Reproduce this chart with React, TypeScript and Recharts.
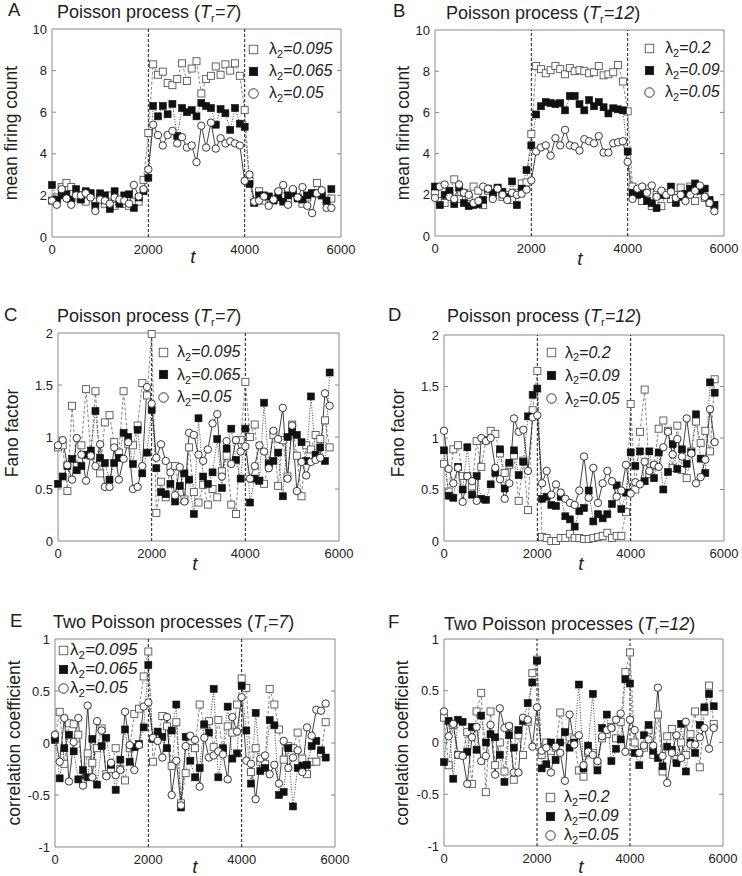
import React from 'react'
import { LineChart, Line, XAxis, YAxis, ReferenceLine, ReferenceArea, Legend } from 'recharts'

// time points (shared x axis)
const T = [
  0, 100, 200, 300, 400, 500, 600, 700, 800, 900,
  1000, 1100, 1200, 1300, 1400, 1500, 1600, 1700, 1800, 1900,
  2000, 2100, 2200, 2300, 2400, 2500, 2600, 2700, 2800, 2900,
  3000, 3100, 3200, 3300, 3400, 3500, 3600, 3700, 3800, 3900,
  4000, 4100, 4200, 4300, 4400, 4500, 4600, 4700, 4800, 4900,
  5000, 5100, 5200, 5300, 5400, 5500, 5600, 5700, 5800,
]
const X_TICKS = [0, 2000, 4000, 6000]
const COUNT_TICKS = [0, 2, 4, 6, 8, 10]
const FANO_TICKS = [0, 0.5, 1, 1.5, 2]
const CORR_TICKS = [-1, -0.5, 0, 0.5, 1]

const LEG_7 = ['0.095', '0.065', '0.05']
const LEG_12 = ['0.2', '0.09', '0.05']

// A: mean firing count, Tr=7
const A_SQ = [1.75, 1.9, 2.4, 2.6, 2.4, 1.9, 2.0, 1.7, 2.1, 1.7, 1.9, 1.6, 2.0, 1.5, 1.7, 1.6, 1.5, 1.7, 1.7, 2.75,
  5.0, 8.3, 7.8, 7.95, 7.4, 7.3, 7.6, 8.35, 7.5, 8.1, 8.45, 6.9, 7.6, 7.75, 8.2, 7.8, 8.3, 8.0, 8.35, 7.75,
  6.1, 2.7, 1.65, 2.2, 1.75, 1.9, 1.8, 2.1, 1.95, 1.7, 2.2, 1.9, 1.6, 1.9, 2.1, 2.6, 2.0, 1.7, 1.85]
const A_FI = [2.5, 1.8, 2.0, 2.05, 1.8, 2.3, 1.8, 2.2, 2.1, 1.5, 2.1, 2.0, 1.35, 2.2, 1.6, 2.0, 2.05, 1.4, 1.9, 2.2,
  2.85, 6.3, 5.8, 6.3, 5.9, 6.4, 4.85, 6.2, 6.0, 6.1, 5.8, 6.45, 6.3, 6.2, 5.4, 6.15, 5.95, 5.15, 6.2, 5.45,
  5.3, 2.55, 1.65, 2.0, 2.0, 1.95, 1.75, 1.9, 1.7, 2.0, 2.1, 1.85, 1.8, 2.0, 2.1, 2.1, 2.0, 1.75, 2.3]
const A_CI = [1.75, 1.55, 2.3, 1.85, 1.55, 2.0, 2.0, 2.1, 1.9, 1.25, 1.8, 1.75, 1.6, 1.9, 1.8, 1.75, 1.6, 2.5, 1.95, 2.3,
  3.25, 5.4, 4.9, 4.4, 4.9, 5.1, 4.5, 4.8, 4.3, 4.4, 3.6, 5.35, 4.3, 5.5, 4.25, 4.75, 4.5, 4.6, 4.5, 4.4,
  2.7, 3.0, 1.7, 1.75, 1.95, 1.5, 1.8, 2.2, 2.5, 1.55, 2.3, 1.9, 2.4, 1.5, 1.15, 2.1, 2.25, 1.4, 1.4]

// B: mean firing count, Tr=12
const B_SQ = [2.15, 1.7, 1.6, 2.1, 2.75, 1.8, 2.1, 1.9, 2.4, 2.2, 1.5, 2.2, 2.0, 2.3, 1.9, 2.0, 1.75, 2.1, 2.55, 2.6,
  4.95, 8.25, 8.1, 7.9, 8.05, 8.25, 8.1, 7.85, 8.15, 8.0, 8.05, 8.0, 7.9, 7.95, 8.25, 7.8, 7.85, 7.95, 8.3, 7.5,
  6.05, 2.4, 2.2, 1.7, 2.3, 1.45, 2.0, 1.45, 2.1, 1.8, 2.0, 2.35, 2.0, 2.4, 1.7, 2.3, 1.85, 1.6, 1.5]
const B_FI = [2.4, 1.5, 2.0, 2.2, 1.55, 2.35, 1.6, 1.45, 1.5, 1.55, 1.75, 2.3, 2.1, 2.35, 2.15, 1.9, 2.65, 1.5, 2.3, 3.2,
  4.4, 5.9, 6.3, 6.5, 6.45, 6.4, 6.45, 6.1, 6.8, 6.8, 6.4, 6.1, 6.6, 6.3, 6.5, 6.25, 5.95, 6.2, 6.15, 6.1,
  4.1, 2.1, 2.0, 2.05, 1.7, 1.6, 1.35, 2.0, 2.0, 2.4, 1.6, 1.9, 2.05, 2.3, 2.55, 2.2, 2.3, 1.75, 1.5]
const B_CI = [1.85, 2.4, 2.5, 1.9, 1.8, 2.5, 2.1, 2.0, 1.6, 1.7, 2.4, 2.3, 1.8, 2.3, 2.0, 1.75, 2.1, 2.0, 2.05, 2.25,
  2.7, 4.1, 4.3, 4.4, 3.9, 4.75, 4.4, 5.15, 4.4, 4.35, 4.15, 4.7, 4.6, 4.5, 4.85, 4.05, 4.05, 4.5, 4.55, 4.6,
  3.6, 1.8, 2.3, 2.4, 2.1, 2.45, 1.9, 2.2, 2.0, 2.15, 1.85, 2.0, 1.7, 2.0, 2.2, 2.45, 1.9, 1.6, 1.2]

// C: Fano factor, Tr=7
const C_SQ = [0.9, 0.92, 0.48, 1.3, 0.72, 0.92, 1.46, 0.82, 1.44, 0.65, 1.14, 1.21, 0.95, 0.85, 1.44, 0.93, 0.92, 1.11, 1.52, 1.4,
  1.99, 0.27, 0.57, 0.42, 0.72, 0.72, 0.4, 0.4, 0.9, 0.47, 0.37, 0.54, 0.35, 0.5, 0.42, 0.67, 0.82, 0.35, 0.26, 0.97,
  1.53, 1.0, 1.12, 0.58, 0.55, 0.75, 1.02, 0.53, 0.97, 0.62, 1.12, 0.82, 0.43, 0.92, 0.88, 1.02, 0.98, 1.16, 0.9]
const C_FI = [0.55, 0.62, 0.72, 0.79, 0.68, 0.72, 0.83, 0.87, 1.25, 0.8, 0.75, 0.59, 0.75, 0.8, 1.04, 1.0, 0.74, 1.07, 0.65, 0.85,
  1.26, 0.7, 0.47, 0.45, 0.55, 0.38, 0.53, 0.65, 0.59, 0.26, 1.18, 0.62, 0.55, 0.66, 0.98, 0.51, 0.89, 1.08, 0.78, 0.6,
  1.08, 0.37, 0.6, 0.58, 1.33, 0.74, 0.77, 0.85, 0.43, 1.0, 1.05, 1.02, 0.95, 0.77, 1.39, 0.83, 0.9, 0.77, 1.62]
const C_CI = [0.92, 0.97, 0.73, 0.59, 0.99, 0.83, 0.58, 0.82, 0.72, 0.93, 0.52, 0.52, 0.9, 0.59, 0.79, 0.95, 0.5, 0.52, 0.72, 1.48,
  1.32, 0.8, 0.93, 0.77, 0.66, 0.44, 0.71, 0.38, 1.04, 1.02, 0.83, 0.77, 0.88, 1.13, 1.22, 0.62, 0.96, 0.74, 0.97, 0.86,
  0.91, 0.6, 0.72, 0.92, 0.86, 0.7, 1.06, 0.98, 1.28, 0.6, 1.11, 0.48, 0.76, 0.63, 0.76, 0.78, 0.8, 1.42, 1.3]

// D: Fano factor, Tr=12
const D_SQ = [0.75, 0.48, 0.89, 0.93, 0.63, 0.63, 0.53, 0.97, 0.72, 0.98, 1.07, 1.04, 0.85, 0.66, 0.74, 0.83, 0.39, 0.78, 0.3, 1.27,
  1.65, 0.04, 0.03, 0.0, 0.0, 0.03, 0.03, 0.07, 0.03, 0.03, 0.02, 0.02, 0.03, 0.04, 0.05, 0.08, 0.03, 0.05, 0.05, 0.28,
  1.33, 0.5, 1.06, 1.47, 0.65, 0.73, 1.09, 1.17, 1.07, 0.71, 1.12, 0.69, 0.61, 0.87, 1.16, 0.95, 1.07, 0.87, 1.57]
const D_FI = [0.88, 0.44, 0.42, 0.72, 0.5, 0.91, 0.45, 0.63, 0.41, 0.4, 0.55, 0.66, 0.89, 0.51, 0.76, 0.88, 0.64, 0.77, 1.21, 1.42,
  1.48, 0.41, 0.43, 0.35, 0.34, 0.43, 0.24, 0.21, 0.14, 0.29, 0.32, 0.49, 0.19, 0.26, 0.22, 0.26, 0.36, 0.54, 0.31, 0.47,
  0.86, 0.73, 0.87, 0.58, 0.87, 0.61, 0.86, 0.5, 0.67, 0.94, 0.7, 0.89, 0.75, 0.86, 1.23, 0.8, 0.66, 1.54, 1.44]
const D_CI = [1.07, 0.7, 0.56, 0.71, 0.38, 0.63, 0.58, 0.39, 1.0, 0.97, 1.0, 0.71, 0.6, 0.41, 0.56, 1.19, 1.06, 1.08, 0.68, 1.2,
  1.22, 0.56, 0.68, 0.45, 0.55, 0.47, 0.41, 0.37, 0.35, 0.49, 0.82, 0.42, 0.71, 0.37, 0.56, 0.68, 0.58, 0.43, 0.49, 0.74,
  0.46, 0.57, 0.55, 0.77, 0.68, 0.74, 0.72, 0.91, 1.06, 0.84, 0.99, 0.82, 1.19, 0.85, 0.56, 0.62, 0.79, 1.28, 0.96]

// E: correlation coefficient, Tr=7
const E_SQ = [0.06, 0.3, -0.2, 0.19, 0.18, 0.08, -0.38, -0.1, -0.19, -0.05, 0.14, -0.3, -0.25, -0.05, -0.25, -0.36, -0.05, 0.28, 0.33, 0.64,
  0.88, -0.18, 0.07, 0.26, 0.16, -0.22, 0.2, -0.58, -0.29, 0.02, -0.05, 0.37, 0.17, 0.21, -0.04, 0.22, -0.07, 0.16, 0.1, 0.37,
  0.62, 0.53, -0.28, -0.05, -0.18, -0.2, 0.52, 0.37, 0.13, -0.16, -0.03, -0.05, 0.1, -0.15, -0.3, -0.18, -0.18, -0.1, 0.2]
const E_FI = [0.03, -0.34, -0.05, 0.08, -0.08, -0.35, -0.26, -0.33, 0.04, -0.4, -0.03, 0.05, -0.21, -0.45, -0.16, 0.13, -0.18, -0.04, -0.01, 0.15,
  0.75, 0.04, 0.11, 0.06, -0.05, 0.12, 0.37, -0.62, 0.06, -0.17, -0.33, -0.24, 0.18, 0.1, 0.52, -0.33, -0.05, 0.35, -0.15, -0.1,
  0.55, 0.12, -0.39, 0.29, -0.27, -0.24, 0.22, 0.17, -0.5, -0.47, -0.05, -0.61, -0.24, -0.22, -0.21, -0.03, 0.02, -0.07, -0.14]
const E_CI = [0.08, -0.18, 0.24, -0.37, 0.01, 0.24, -0.41, 0.36, -0.33, 0.21, 0.12, -0.32, -0.19, -0.31, -0.26, 0.3, -0.02, -0.26, -0.02, 0.35,
  0.39, 0.05, 0.02, -0.14, 0.25, -0.5, -0.17, -0.6, -0.03, 0.07, 0.03, -0.42, 0.05, -0.14, -0.12, -0.08, -0.11, -0.35, 0.25, 0.11,
  0.44, -0.17, -0.2, -0.54, -0.15, -0.12, -0.3, -0.21, -0.39, 0.02, -0.24, -0.14, -0.07, -0.28, 0.15, 0.07, 0.32, 0.31, 0.38]

// F: correlation coefficient, Tr=12
const F_SQ = [0.24, -0.22, 0.17, -0.12, -0.12, 0.1, -0.4, 0.3, 0.48, -0.48, 0.3, -0.22, 0.0, -0.28, 0.15, -0.36, 0.07, -0.12, 0.2, 0.67,
  0.8, -0.12, 0.0, -0.08, -0.05, 0.29, 0.03, 0.05, 0.03, -0.27, -0.33, -0.1, -0.1, -0.2, 0.04, 0.08, 0.15, 0.04, 0.2, 0.68,
  0.87, 0.0, -0.1, -0.05, 0.12, -0.12, 0.27, -0.28, 0.06, 0.13, -0.16, 0.0, -0.12, 0.08, 0.3, -0.24, 0.3, 0.55, 0.18]
const F_FI = [-0.19, 0.21, -0.35, 0.22, 0.2, -0.09, 0.15, -0.07, 0.26, 0.0, 0.08, 0.05, -0.12, -0.38, 0.07, -0.05, 0.12, 0.21, 0.38, 0.58,
  0.79, -0.25, -0.21, 0.0, -0.17, 0.0, 0.1, -0.05, 0.0, 0.56, -0.25, -0.03, 0.47, -0.27, 0.14, 0.27, -0.18, -0.06, 0.03, 0.61,
  0.57, -0.1, -0.22, 0.07, 0.17, -0.08, -0.15, -0.23, -0.04, -0.07, -0.2, 0.18, -0.28, 0.0, -0.1, 0.17, 0.34, 0.47, 0.35]
const F_CI = [0.3, 0.06, 0.18, -0.12, -0.13, -0.4, 0.05, 0.15, -0.18, -0.13, 0.17, -0.31, 0.33, 0.14, 0.16, -0.29, -0.29, 0.24, 0.22, -0.04,
  0.34, -0.08, -0.05, -0.29, -0.04, -0.1, -0.37, 0.27, -0.02, 0.07, -0.22, -0.09, -0.12, -0.18, 0.06, 0.12, 0.14, 0.22, 0.28, -0.09,
  0.22, 0.12, -0.1, -0.03, 0.03, -0.03, 0.53, -0.13, -0.39, -0.1, 0.07, -0.15, 0.2, -0.02, -0.02, 0.05, 0.14, -0.06, 0.14]

const FONT = '"Liberation Sans", Arial, Helvetica, sans-serif'
const ML = 50, MT = 10, MR = 26, MB = 30
const ORDER = ['sq', 'fi', 'ci']

function Marker({ kind, cx, cy, s }: { kind: string; cx: number; cy: number; s: number }) {
  if (kind === 'sq')
    return <rect x={cx - s / 2} y={cy - s / 2} width={s} height={s} fill="#fff" stroke="#555" strokeWidth={0.9} />
  if (kind === 'fi')
    return <rect x={cx - s / 2} y={cy - s / 2} width={s} height={s} fill="#111" stroke="#111" strokeWidth={0.6} />
  return <circle cx={cx} cy={cy} r={s / 2} fill="#fff" stroke="#222" strokeWidth={0.9} />
}

function YTick(props: any) {
  const { x, y, payload, w, lo, hi } = props
  const edge = payload.value === lo || payload.value === hi
  return (
    <g>
      <text x={x} y={y} dy="0.36em" textAnchor="end" fontSize={13} fill="#222">{payload.value}</text>
      {!edge && <line x1={ML} x2={ML + 4} y1={y} y2={y} stroke="#888" />}
      {!edge && <line x1={ML + w - 4} x2={ML + w} y1={y} y2={y} stroke="#888" />}
    </g>
  )
}

type Box = { x: number; y: number; w: number; h: number }
type PanelProps = {
  box: Box
  yDomain: [number, number]
  yTicks: number[]
  sq: number[]
  fi: number[]
  ci: number[]
  leg: string[]
  legX: number
  legY: number
  rowH: number
  gap: number
  legFs: number
}

function Panel({ box, yDomain, yTicks, sq, fi, ci, leg, legX, legY, rowH, gap, legFs }: PanelProps) {
  const data = T.map((t, i) => ({ t, sq: sq[i], fi: fi[i], ci: ci[i] }))
  const left = box.x - ML
  const top = box.y - MT
  return (
    <div style={{ position: 'absolute', left, top }}>
      <LineChart width={box.w + ML + MR} height={box.h + MT + MB} data={data}
        margin={{ top: MT, left: 0, right: MR, bottom: 0 }}>
        <XAxis dataKey="t" type="number" domain={[0, 6000]} ticks={X_TICKS} interval={0} height={MB}
          axisLine={false} tickLine={false} tickSize={0} tickMargin={8}
          tick={{ fontSize: 13, fill: '#222' }} />
        <YAxis type="number" domain={yDomain} ticks={yTicks} interval={0} width={ML}
          axisLine={false} tickLine={false} tickSize={0} tickMargin={5}
          tick={(p: any) => <YTick {...p} w={box.w} lo={yDomain[0]} hi={yDomain[1]} />} />
        <ReferenceLine x={2000} stroke="#000" strokeDasharray="3 2" strokeWidth={0.9} />
        <ReferenceLine x={4000} stroke="#000" strokeDasharray="3 2" strokeWidth={0.9} />
        <Line dataKey="sq" name={leg[0]} stroke="#666" strokeWidth={0.8} strokeDasharray="3 2"
          isAnimationActive={false} activeDot={false}
          dot={(p: any) => <Marker key={`s${p.index}`} kind="sq" cx={p.cx} cy={p.cy} s={7} />} />
        <Line dataKey="fi" name={leg[1]} stroke="#111" strokeWidth={0.8} strokeDasharray="1 1.6"
          isAnimationActive={false} activeDot={false}
          dot={(p: any) => <Marker key={`f${p.index}`} kind="fi" cx={p.cx} cy={p.cy} s={7} />} />
        <Line dataKey="ci" name={leg[2]} stroke="#111" strokeWidth={0.8}
          isAnimationActive={false} activeDot={false}
          dot={(p: any) => <Marker key={`c${p.index}`} kind="ci" cx={p.cx} cy={p.cy} s={7.4} />} />
        <ReferenceArea x1={0} x2={6000} y1={yDomain[0]} y2={yDomain[1]} fill="none" fillOpacity={0}
          stroke="#888" strokeWidth={1} ifOverflow="visible" />
        <Legend layout="vertical" align="center" verticalAlign="middle"
          wrapperStyle={{ position: 'absolute', left: legX - left, top: legY - top, width: 'auto', height: 'auto' }}
          content={(lp: any) => {
            const items = [...(lp.payload || [])].sort(
              (a: any, b: any) => ORDER.indexOf(a.dataKey) - ORDER.indexOf(b.dataKey))
            return (
              <div style={{ fontFamily: FONT, fontSize: legFs, color: '#222' }}>
                {items.map((e: any) => (
                  <div key={e.dataKey} style={{ display: 'flex', alignItems: 'center', height: rowH, whiteSpace: 'nowrap' }}>
                    <svg width={11} height={11} style={{ overflow: 'visible' }}>
                      <Marker kind={e.dataKey} cx={5.5} cy={5.5} s={e.dataKey === 'ci' ? 9.5 : 8.5} />
                    </svg>
                    <span style={{ marginLeft: gap }}>
                      λ<span style={{ fontSize: '0.68em', position: 'relative', top: '0.35em' }}>2</span>
                      <i>={e.value}</i>
                    </span>
                  </div>
                ))}
              </div>
            )
          }} />
      </LineChart>
    </div>
  )
}

function Txt({ x, y, fs, children, italic }: { x: number; y: number; fs: number; children: React.ReactNode; italic?: boolean }) {
  return (
    <div style={{ position: 'absolute', left: x, top: y, fontSize: fs, lineHeight: 1, whiteSpace: 'nowrap', fontStyle: italic ? 'italic' : 'normal' }}>
      {children}
    </div>
  )
}

function Title({ x, y, pre, tr }: { x: number; y: number; pre: string; tr: string }) {
  return (
    <Txt x={x} y={y} fs={18}>
      {pre} (<i>T</i><span style={{ fontSize: '0.6em', position: 'relative', top: '0.4em' }}>r</span><i>={tr}</i>)
    </Txt>
  )
}

function YLabel({ cx, cy, text }: { cx: number; cy: number; text: string }) {
  return (
    <div style={{ position: 'absolute', left: cx, top: cy, fontSize: 17.5, lineHeight: 1, whiteSpace: 'nowrap',
      transform: 'translate(-50%, -50%) rotate(-90deg)' }}>{text}</div>
  )
}

function TLabel({ cx, cy }: { cx: number; cy: number }) {
  return (
    <div style={{ position: 'absolute', left: cx, top: cy, fontSize: 19, lineHeight: 1, fontStyle: 'italic',
      transform: 'translate(-50%, -50%)' }}>t</div>
  )
}

export default function App() {
  return (
    <div style={{ position: 'absolute', left: 0, top: 0, width: 742, height: 876, background: '#fff',
      fontFamily: FONT, color: '#222', overflow: 'hidden' }}>
      <Panel box={{ x: 52, y: 29, w: 289, h: 208 }} yDomain={[0, 10]} yTicks={COUNT_TICKS}
        sq={A_SQ} fi={A_FI} ci={A_CI} leg={LEG_7} legX={248} legY={38} rowH={22} gap={10} legFs={16} />
      <Panel box={{ x: 435, y: 30, w: 289, h: 206 }} yDomain={[0, 10]} yTicks={COUNT_TICKS}
        sq={B_SQ} fi={B_FI} ci={B_CI} leg={LEG_12} legX={644} legY={37} rowH={22} gap={10} legFs={16} />
      <Panel box={{ x: 58, y: 333, w: 281, h: 208 }} yDomain={[0, 2]} yTicks={FANO_TICKS}
        sq={C_SQ} fi={C_FI} ci={C_CI} leg={LEG_7} legX={158} legY={341} rowH={22.5} gap={8} legFs={16} />
      <Panel box={{ x: 444, y: 335, w: 280, h: 206 }} yDomain={[0, 2]} yTicks={FANO_TICKS}
        sq={D_SQ} fi={D_FI} ci={D_CI} leg={LEG_12} legX={546} legY={341} rowH={23} gap={8} legFs={16} />
      <Panel box={{ x: 55, y: 639, w: 280, h: 208 }} yDomain={[-1, 1]} yTicks={CORR_TICKS}
        sq={E_SQ} fi={E_FI} ci={E_CI} leg={LEG_7} legX={58} legY={640.5} rowH={19} gap={1} legFs={17} />
      <Panel box={{ x: 444, y: 639, w: 279, h: 207 }} yDomain={[-1, 1]} yTicks={CORR_TICKS}
        sq={F_SQ} fi={F_FI} ci={F_CI} leg={LEG_12} legX={545} legY={787.5} rowH={19} gap={8} legFs={16} />

      <Txt x={8} y={1} fs={18.5}>A</Txt>
      <Txt x={393} y={2} fs={18.5}>B</Txt>
      <Txt x={4} y={306} fs={18.5}>C</Txt>
      <Txt x={388} y={306} fs={18.5}>D</Txt>
      <Txt x={10} y={612} fs={18.5}>E</Txt>
      <Txt x={388} y={613} fs={18.5}>F</Txt>

      <Title x={57} y={3} pre="Poisson process" tr="7" />
      <Title x={446} y={3.5} pre="Poisson process" tr="12" />
      <Title x={57} y={306.5} pre="Poisson process" tr="7" />
      <Title x={447} y={306.5} pre="Poisson process" tr="12" />
      <Title x={53} y={612.5} pre="Two Poisson processes" tr="7" />
      <Title x={444} y={614.5} pre="Two Poisson processes" tr="12" />

      <YLabel cx={12} cy={133} text="mean firing count" />
      <YLabel cx={404} cy={133} text="mean firing count" />
      <YLabel cx={13} cy={433} text="Fano factor" />
      <YLabel cx={399} cy={433} text="Fano factor" />
      <YLabel cx={15} cy={743} text="correlation coefficient" />
      <YLabel cx={403} cy={743} text="correlation coefficient" />

      <TLabel cx={193} cy={256} />
      <TLabel cx={580} cy={258} />
      <TLabel cx={195} cy={563} />
      <TLabel cx={581} cy={563} />
      <TLabel cx={195} cy={866} />
      <TLabel cx={581} cy={866} />
    </div>
  )
}
